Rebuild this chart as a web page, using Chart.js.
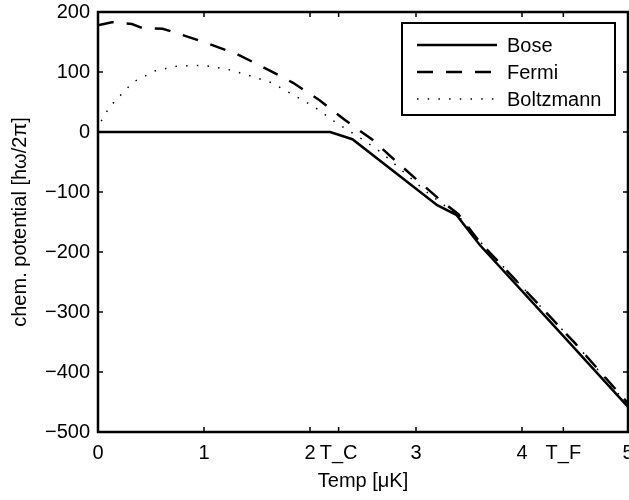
<!DOCTYPE html>
<html>
<head>
<meta charset="utf-8">
<script src="https://cdn.jsdelivr.net/npm/chart.js@4/dist/chart.umd.min.js"></script>
<style>
  html, body { margin: 0; padding: 0; background: #fff; }
  #wrap { width: 629px; height: 500px; }
</style>
</head>
<body>
<div id="wrap"><canvas id="c"></canvas></div>
<script>
const T_C = 2.27;
const T_F = 4.39;

const xTickValues = [0, 1, 2, T_C, 3, 4, T_F, 5];
const xTickLabels = ['0', '1', '2', 'T_C', '3', '4', 'T_F', '5'];

const boseX = [0, 2.19, 2.40, 3.20, 3.38, 3.60, 4.38, 5.0];
const boseY = [0, 0, -12, -122, -138, -188, -338, -458];

const fermiX = [0, 0.13, 0.32, 0.42, 0.61, 0.74, 1.03, 1.31, 1.57, 1.84, 2.09, 2.33, 2.59, 2.80, 3.01, 3.24, 3.40, 3.60, 4.0, 4.5, 5.0];
const fermiY = [178, 183, 180, 173, 172, 165, 148, 130, 107, 82, 53, 20, -13, -47, -80, -115, -137, -183, -258, -352, -452];

const boltzX = [0.03, 0.11, 0.19, 0.33, 0.54, 0.75, 0.99, 1.21, 1.41, 1.64, 1.84, 2.04, 2.25, 2.50, 2.68, 2.86, 3.1, 3.4, 3.6, 4.0, 4.5, 5.0];
const boltzY = [18, 42, 57, 83, 102, 110, 111, 105, 95, 82, 62, 42, 15, -13, -35, -63, -100, -140, -182, -258, -352, -455];

const seriesNames = ['Bose', 'Fermi', 'Boltzmann'];

function pts(xs, ys) {
  return xs.map((x, i) => ({ x: x, y: ys[i] }));
}

const FONT = "'Liberation Sans', Arial, Helvetica, sans-serif";

// box, inward ticks and legend, drawn the Matlab way
const matlabFrame = {
  id: 'matlabFrame',
  afterDraw(chart) {
    const ctx = chart.ctx;
    const a = chart.chartArea;
    const xs = chart.scales.x, ys = chart.scales.y;
    ctx.save();
    ctx.strokeStyle = '#000';
    ctx.lineWidth = 2.5;
    ctx.strokeRect(a.left, a.top, a.right - a.left, a.bottom - a.top);

    const tl = 5;
    ctx.lineWidth = 1.5;
    ctx.beginPath();
    xs.ticks.forEach(t => {
      const px = xs.getPixelForValue(t.value);
      ctx.moveTo(px, a.bottom); ctx.lineTo(px, a.bottom - tl);
      ctx.moveTo(px, a.top); ctx.lineTo(px, a.top + tl);
    });
    ys.ticks.forEach(t => {
      const py = ys.getPixelForValue(t.value);
      ctx.moveTo(a.left, py); ctx.lineTo(a.left + tl, py);
      ctx.moveTo(a.right, py); ctx.lineTo(a.right - tl, py);
    });
    ctx.stroke();

    // legend
    const lx = 402, ly = 23, lw = 213, lh = 92;
    ctx.fillStyle = '#fff';
    ctx.fillRect(lx, ly, lw, lh);
    ctx.lineWidth = 2;
    ctx.strokeRect(lx, ly, lw, lh);
    ctx.font = '20px ' + FONT;
    ctx.textBaseline = 'middle';
    ctx.fillStyle = '#000';
    chart.data.datasets.forEach((ds, i) => {
      const y = 45 + i * 27;
      ctx.lineWidth = ds.borderWidth;
      ctx.setLineDash(ds.borderDash || []);
      ctx.beginPath();
      ctx.moveTo(417, y); ctx.lineTo(497, y);
      ctx.stroke();
      ctx.setLineDash([]);
      ctx.fillText(ds.label, 507, y + 1);
    });
    ctx.restore();
  }
};

new Chart(document.getElementById('c'), {
  type: 'line',
  data: {
    datasets: [
      { label: seriesNames[0], data: pts(boseX, boseY), borderColor: '#000', borderWidth: 2.5, pointRadius: 0, tension: 0 },
      { label: seriesNames[1], data: pts(fermiX, fermiY), borderColor: '#000', borderWidth: 2.5, borderDash: [16, 13], pointRadius: 0, tension: 0 },
      { label: seriesNames[2], data: pts(boltzX, boltzY), borderColor: '#000', borderWidth: 1.5, borderDash: [1.5, 9.2], pointRadius: 0, tension: 0 }
    ]
  },
  plugins: [matlabFrame],
  options: {
    responsive: true,
    maintainAspectRatio: false,
    animation: false,
    layout: { padding: { top: 12, right: 1, left: 0, bottom: 0 } },
    plugins: { legend: { display: false }, tooltip: { enabled: false } },
    scales: {
      x: {
        type: 'linear',
        min: 0, max: 5,
        grid: { display: false, drawTicks: false },
        border: { display: false },
        afterBuildTicks: s => { s.ticks = xTickValues.map(v => ({ value: v })); },
        afterFit: s => { s.height = 68; s.paddingLeft = 0; s.paddingRight = 0; },
        ticks: {
          autoSkip: false, maxRotation: 0, padding: 9, color: '#000',
          font: { family: FONT, size: 20 },
          callback: (v, i) => xTickLabels[i]
        },
        title: { display: true, text: 'Temp [μK]', color: '#000', font: { family: FONT, size: 20 }, padding: { top: 0, bottom: 7 } }
      },
      y: {
        min: -500, max: 200,
        grid: { display: false, drawTicks: false },
        border: { display: false },
        afterFit: s => { s.width = 98; s.paddingTop = 0; s.paddingBottom = 0; },
        ticks: {
          stepSize: 100, padding: 8, color: '#000',
          font: { family: FONT, size: 20 },
          callback: v => String(v).replace('-', '\u2212')
        },
        title: { display: true, text: 'chem. potential [hω/2π]', color: '#000', font: { family: FONT, size: 20 }, padding: { top: 8, bottom: 0 } }
      }
    }
  }
});
</script>
</body>
</html>
